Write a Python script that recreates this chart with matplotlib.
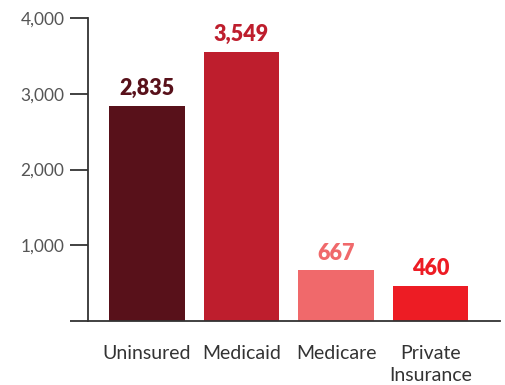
import matplotlib.pyplot as plt

plt.rcParams['font.family'] = ['Lato', 'DejaVu Sans']

# data
categories = ['Uninsured', 'Medicaid', 'Medicare', 'Private\nInsurance']
values = [2835, 3549, 667, 460]
colors = ['#58111A', '#BE1E2D', '#F0696B', '#ED1C24']
yticks = [0, 1000, 2000, 3000, 4000]
ytick_labels = ['', '1,000', '2,000', '3,000', '4,000']

fig = plt.figure(figsize=(5.06, 3.85), dpi=100)
ax = fig.add_axes([88 / 506, 1 - 321 / 385, 412 / 506, 303 / 385])

x = list(range(len(categories)))
bars = ax.bar(x, values, width=0.80, color=colors)

for xi, v, c in zip(x, values, colors):
    ax.annotate(f'{v:,}', (xi, v), xytext=(0, 5), textcoords='offset points',
                ha='center', va='bottom', fontsize=15.5, fontweight='heavy', color=c)

ax.set_xlim(-0.624, 3.735)
ax.set_ylim(0, 4000)
ax.set_yticks(yticks)
ax.set_yticklabels(ytick_labels)
ax.set_xticks(x)
ax.set_xticklabels(categories, linespacing=1.4)

for s in ['top', 'right']:
    ax.spines[s].set_visible(False)
for s in ['left', 'bottom']:
    ax.spines[s].set_color('#333333')
    ax.spines[s].set_linewidth(1.3)

ax.tick_params(axis='y', length=13, width=1.3, color='#333333', labelsize=12.5,
               labelcolor='#555555', pad=4)
ax.tick_params(axis='x', length=0, labelsize=14, labelcolor='#333333', pad=17)

fig.savefig('out.png', dpi=100)
